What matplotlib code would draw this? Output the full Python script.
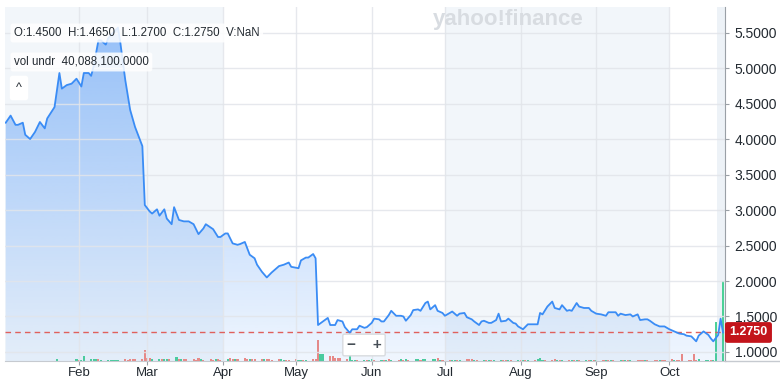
import numpy as np
import pandas as pd
import matplotlib
matplotlib.use('Agg')
import matplotlib.pyplot as plt
import matplotlib.dates as mdates
import matplotlib.transforms as mtransforms
from matplotlib.lines import Line2D
from matplotlib.ticker import FormatStrFormatter

plt.rcParams['font.family'] = ['Liberation Sans', 'DejaVu Sans']

# price line (month-day, close)
price_days = [
    '01-02', '01-04', '01-06', '01-07', '01-09', '01-10', '01-12', '01-14', '01-16', '01-18',
    '01-19', '01-22', '01-24', '01-25', '01-27', '01-29', '01-31', '02-02', '02-03', '02-05',
    '02-06', '02-07', '02-09', '02-10', '02-12', '02-13', '02-17', '02-18', '02-20', '02-22',
    '02-24', '02-27', '02-28', '03-02', '03-03', '03-05', '03-06', '03-08', '03-09', '03-11',
    '03-12', '03-14', '03-16', '03-18', '03-20', '03-22', '03-24', '03-25', '03-28', '03-30',
    '03-31', '04-02', '04-03', '04-05', '04-07', '04-08', '04-10', '04-12', '04-14', '04-15',
    '04-17', '04-19', '04-21', '04-24', '04-26', '04-28', '04-29', '05-02', '05-03', '05-05',
    '05-06', '05-08', '05-09', '05-10', '05-12', '05-14', '05-15', '05-17', '05-18', '05-20',
    '05-21', '05-23', '05-24', '05-26', '05-27', '05-29', '05-30', '06-01', '06-02', '06-04',
    '06-05', '06-06', '06-08', '06-09', '06-11', '06-13', '06-14', '06-15', '06-17', '06-18',
    '06-20', '06-21', '06-23', '06-24', '06-25', '06-27', '06-28', '06-30', '07-01', '07-03',
    '07-04', '07-06', '07-07', '07-09', '07-10', '07-12', '07-13', '07-15', '07-16', '07-17',
    '07-19', '07-20', '07-22', '07-23', '07-24', '07-26', '07-27', '07-29', '07-30', '07-31',
    '08-02', '08-04', '08-06', '08-08', '08-09', '08-10', '08-12', '08-14', '08-15', '08-17',
    '08-18', '08-20', '08-21', '08-22', '08-24', '08-25', '08-27', '08-29', '08-30', '09-01',
    '09-03', '09-05', '09-06', '09-07', '09-09', '09-10', '09-11', '09-13', '09-15', '09-16',
    '09-18', '09-19', '09-21', '09-22', '09-23', '09-25', '09-27', '09-29', '10-01', '10-03',
    '10-05', '10-07', '10-08', '10-10', '10-12', '10-13', '10-15', '10-17', '10-18', '10-19',
    '10-21', '10-22', '10-23',
]
price_close = [
    4.23, 4.33, 4.20, 4.20, 4.23, 4.06, 4.00, 4.10, 4.24, 4.15,
    4.29, 4.45, 4.93, 4.71, 4.76, 4.78, 4.85, 4.74, 4.93, 4.93,
    4.89, 5.02, 5.39, 5.39, 5.33, 5.42, 5.57, 5.35, 4.83, 4.41,
    4.17, 3.90, 3.07, 2.98, 2.95, 3.01, 2.92, 3.01, 2.88, 2.80,
    3.04, 2.86, 2.84, 2.84, 2.80, 2.66, 2.74, 2.80, 2.73, 2.62,
    2.62, 2.67, 2.67, 2.53, 2.51, 2.52, 2.55, 2.37, 2.32, 2.23,
    2.13, 2.05, 2.12, 2.21, 2.23, 2.26, 2.20, 2.18, 2.29, 2.33,
    2.33, 2.38, 2.32, 1.38, 1.43, 1.48, 1.38, 1.38, 1.45, 1.43,
    1.35, 1.27, 1.32, 1.32, 1.37, 1.34, 1.35, 1.41, 1.47, 1.46,
    1.43, 1.43, 1.52, 1.58, 1.51, 1.51, 1.50, 1.44, 1.52, 1.59,
    1.60, 1.58, 1.69, 1.71, 1.60, 1.66, 1.58, 1.55, 1.51, 1.55,
    1.57, 1.51, 1.54, 1.55, 1.49, 1.46, 1.43, 1.38, 1.43, 1.44,
    1.41, 1.41, 1.45, 1.54, 1.43, 1.44, 1.47, 1.41, 1.40, 1.36,
    1.32, 1.39, 1.39, 1.39, 1.55, 1.53, 1.64, 1.71, 1.62, 1.60,
    1.66, 1.58, 1.59, 1.58, 1.69, 1.64, 1.62, 1.62, 1.58, 1.54,
    1.53, 1.51, 1.56, 1.56, 1.56, 1.51, 1.54, 1.52, 1.53, 1.50,
    1.53, 1.45, 1.46, 1.46, 1.44, 1.39, 1.36, 1.36, 1.32, 1.29,
    1.26, 1.25, 1.23, 1.22, 1.15, 1.23, 1.29, 1.24, 1.19, 1.15,
    1.24, 1.47, 1.275,
]

# daily volume in millions, one row per week (Mon-Fri), starting 2023-01-02
vol_millions = [
    0, 0, 0, 0, 0,
    0, 0, 0, 0, 0,
    0, 0, 0, 0, 0,
    0.9, 0, 0, 0, 0,
    0.2, 1.0, 0.3, 0.3, 2.5,
    1.0, 1.0, 1.1, 0.8, 0.6,
    0.7, 0.7, 0.6, 0.7, 0.6,
    0.8, 0.7, 0.8, 0.8, 0.9,
    0.8, 5.3, 1.5, 1.6, 1.2,
    1.2, 1.0, 1.2, 1.0, 1.1,
    2.0, 1.0, 0.9, 0.8, 0.8,
    0.8, 0.7, 1.5, 0.8, 0.7,
    0.8, 0.7, 0.9, 0.8, 0.7,
    1.2, 1.3, 1.0, 1.2, 1.0,
    1.3, 1.1, 1.0, 1.2, 1.0,
    0.9, 0.8, 0.8, 0.8, 0.7,
    0.9, 0.8, 0.7, 0.7, 0.6,
    1.0, 0.6, 0.5, 0.6, 0.7,
    0.8, 0.9, 10.4, 3.5, 3.5,
    2.5, 2.3, 1.5, 1.4, 1.3,
    1.2, 3.0, 0.7, 0.6, 0.6,
    0.7, 0.5, 0.6, 0.8, 0.5,
    0.6, 0.7, 0.5, 0.8, 0.6,
    0.7, 0.8, 0.6, 0.9, 0.7,
    0.8, 0.9, 0.7, 1.0, 0.9,
    0.8, 0.9, 1.5, 0.7, 0.6,
    0.5, 0.5, 0.6, 0.4, 0.5,
    0.8, 0.9, 0.8, 0.5, 0.4,
    0.4, 0.5, 0.4, 0.3, 0.4,
    0.5, 0.4, 0.4, 0.3, 0.4,
    0.6, 0.7, 0.6, 0.5, 0.4,
    0.5, 0.8, 1.6, 0.6, 0.7,
    0.7, 0.8, 0.6, 0.5, 0.4,
    0.4, 0.4, 0.3, 0.4, 0.3,
    0.3, 0.3, 0.3, 0.3, 0.3,
    0.3, 0.3, 0.3, 0.3, 0.3,
    0.3, 0.3, 0.3, 0.3, 0.3,
    0.4, 0.7, 0.6, 0.4, 0.7,
    0.7, 0.5, 0.4, 0.4, 0.3,
    0.8, 0.4, 0.4, 0.5, 3.5,
    0.5, 0.6, 3.5, 0.6, 0.8,
    0.4, 0.5, 0.3, 0.5, 19.5,
    40.0881,
]
# g = up day, r = down day
vol_dir = ('ggggg' 'ggggg' 'ggggg' 'ggggg' 'ggrgg'
           'gggrg' 'ggggg' 'rrrrr' 'rrrrg' 'grggr'
           'grgrr' 'rrrgr' 'rrgrr' 'grrgr' 'rrgrr'
           'rgrrr' 'rggrr' 'rggrg' 'rrrgg' 'rrrrr'
           'rgggr' 'grggr' 'grgrg' 'rgrgr' 'ggrgg'
           'ggrgr' 'rggrg' 'rrrgr' 'grgrg' 'grrgr'
           'grgrg' 'rgggr' 'rrgrg' 'rgrgr' 'grgrg'
           'rgrgr' 'grgrg' 'rrrgr' 'rrgrr' 'rgrrr'
           'rrrrg' 'ggrgg' 'g')

last_close = 1.275
ohlc_text = 'O:1.4500  H:1.4650  L:1.2700  C:1.2750  V:NaN'
vol_text = 'vol undr  40,088,100.0000'
y_ticks = [1.0, 1.5, 2.0, 2.5, 3.0, 3.5, 4.0, 4.5, 5.0, 5.5]
month_ticks = ['2023-02-01', '2023-03-01', '2023-04-01', '2023-05-01', '2023-06-01',
               '2023-07-01', '2023-08-01', '2023-09-01', '2023-10-01']

dates = pd.to_datetime(['2023-' + d for d in price_days])
vol_dates = pd.bdate_range('2023-01-02', '2023-10-23')
vol = np.array(vol_millions) * 1e6
vol_colors = ['#4cd197' if c == 'g' else '#f6897e' for c in vol_dir]

fig = plt.figure(figsize=(7.8, 3.81), dpi=100)
rect = [5 / 780, 20 / 381, 720 / 780, 354 / 381]
axv = fig.add_axes(rect, zorder=1)
ax = fig.add_axes(rect, zorder=2, sharex=axv)
ax.patch.set_visible(False)

x0 = mdates.date2num(pd.Timestamp('2023-01-02')) - 0.3
x1 = mdates.date2num(pd.Timestamp('2023-10-23')) + 0.8
ymin, ymax = 0.873, 5.86

# background quarter bands + hover column, volume bars
axv.axvspan(x0, mdates.date2num(pd.Timestamp('2023-04-01')), color='#f2f6fa', lw=0)
axv.axvspan(mdates.date2num(pd.Timestamp('2023-07-01')), mdates.date2num(pd.Timestamp('2023-10-01')),
            color='#f2f6fa', lw=0)
axv.axvspan(mdates.date2num(pd.Timestamp('2023-10-20')) + 0.6, x1, color='#edf2f7', lw=0)
axv.bar(vol_dates, vol, width=0.85, color=vol_colors, linewidth=0)
axv.set_ylim(0, 177e6)
axv.set_xlim(x0, x1)
axv.axis('off')

# gradient area under the price line
poly = ax.fill_between(dates, price_close, ymin, facecolor='none', edgecolor='none')
grad = np.linspace(0, 1, 256).reshape(-1, 1)
rgba = np.zeros((256, 1, 4))
rgba[..., 0] = 61 / 255
rgba[..., 1] = 140 / 255
rgba[..., 2] = 247 / 255
rgba[..., 3] = 0.08 + 0.45 * grad
img = ax.imshow(rgba, extent=[x0, x1, ymin, ymax], origin='lower', aspect='auto', zorder=1,
                interpolation='bilinear')
img.set_clip_path(poly.get_paths()[0], transform=ax.transData)

# grid on top of the fill
for yt in y_ticks:
    ax.axhline(yt, color='#e2e5ea', lw=1, alpha=0.85, zorder=1.5)
for mt in month_ticks:
    ax.axvline(pd.Timestamp(mt), color='#e2e5ea', lw=1, alpha=0.85, zorder=1.5)

ax.axhline(last_close, color='#e0605c', lw=1, ls=(0, (4, 3)), zorder=2.5)
ax.plot(dates, price_close, color='#3a8cf5', lw=1.3, zorder=3)

ax.set_xlim(x0, x1)
ax.set_ylim(ymin, ymax)
ax.yaxis.tick_right()
ax.set_yticks(y_ticks)
ax.yaxis.set_major_formatter(FormatStrFormatter('%.4f'))
ax.set_xticks(pd.to_datetime(month_ticks))
ax.xaxis.set_major_formatter(mdates.DateFormatter('%b'))
ax.tick_params(axis='y', labelsize=10, length=3, color='#9aa0a6', labelcolor='#232a31', pad=4)
ax.tick_params(axis='x', labelsize=9.5, length=3, color='#9aa0a6', labelcolor='#232a31', pad=1)
for s in ['left', 'top']:
    ax.spines[s].set_visible(False)
ax.spines['right'].set_color('#9aa0a6')
ax.spines['bottom'].set_color('#c6cad0')
fig.add_artist(Line2D([725 / 780, 1], [20 / 381, 20 / 381], color='#c6cad0', lw=1))

# last price tag
trans = mtransforms.blended_transform_factory(ax.transAxes, ax.transData)
ax.text(1.006, last_close, '1.2750', transform=trans, ha='left', va='center', color='white',
        fontsize=9, fontweight='bold',
        bbox=dict(boxstyle='round,pad=0.35,rounding_size=0.2', fc='#c3141b', ec='none'))

# overlays
box = dict(boxstyle='round,pad=0.3,rounding_size=0.2', fc='white', ec='none', alpha=0.85)
fig.text(14 / 780, 1 - 33 / 381, ohlc_text, fontsize=8.3, ha='left', va='center', color='#232a31', bbox=box)
fig.text(14 / 780, 1 - 62 / 381, vol_text, fontsize=8.3, ha='left', va='center', color='#232a31', bbox=box)
fig.text(19 / 780, 1 - 88 / 381, '^', fontsize=9, ha='center', va='center', color='#232a31',
         bbox=dict(boxstyle='round,pad=0.5,rounding_size=0.2', fc='white', ec='none'))
fig.text(364 / 780, 1 - 345 / 381, '\u2212    +', fontsize=11, fontweight='bold', ha='center', va='center',
         color='#464e56', bbox=dict(boxstyle='round,pad=0.25,rounding_size=0.1', fc='white', ec='#d8dbdf'))
fig.text(508 / 780, 1 - 20 / 381, 'yahoo!finance', fontsize=16, fontweight='bold', ha='center', va='center',
         color='#d8dce1')

fig.savefig('out.png', dpi=100)
